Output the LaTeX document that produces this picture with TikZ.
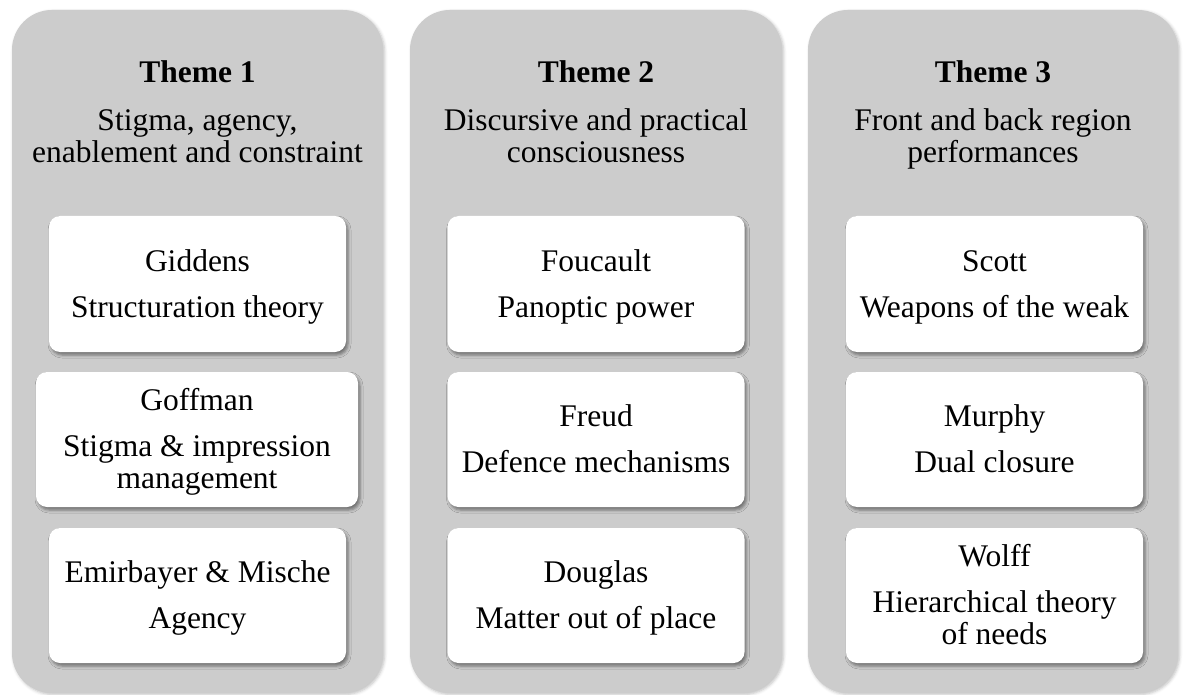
\documentclass[tikz,border=0pt]{standalone}
\usepackage{fontspec}
\setmainfont{Liberation Serif}
\usetikzlibrary{shadows.blur}
\definecolor{panelgray}{RGB}{204,204,204}
\newcommand\cardhi{\rule{0pt}{27pt}}
\newcommand\cardlo{\rule[-7pt]{0pt}{7pt}}
\begin{document}
\begin{tikzpicture}[x=1pt,y=-1pt,
  panel/.style={fill=panelgray, rounded corners=40pt, inner sep=0pt,
    blur shadow={shadow xshift=1.5pt, shadow yshift=-1.5pt, shadow blur radius=3pt, shadow opacity=25}},
  card/.style={fill=white, rounded corners=11pt, align=center, inner sep=0pt,
    font=\fontsize{31.5}{32}\selectfont,
    blur shadow={shadow xshift=2pt, shadow yshift=-3pt, shadow blur radius=3pt, shadow opacity=45}},
  header/.style={align=center, inner sep=0pt, font=\fontsize{31.5}{32}\selectfont, anchor=base}]
\useasboundingbox (0,0) rectangle (1183,695);

% panels
\node[panel, minimum width=371pt, minimum height=683pt] (p1) at (197.5,351.5) {};
\node[panel, minimum width=372pt, minimum height=683pt] (p2) at (596,351.5) {};
\node[panel, minimum width=370pt, minimum height=683pt] (p3) at (993,351.5) {};

% headers (base anchor = baseline of last line)
\node[header] (h1) at (197.5,162.5) {\textbf{Theme 1}\\[16pt]Stigma, agency,\\enablement and constraint};
\node[header] (h2) at (596,162.5) {\textbf{Theme 2}\\[16pt]Discursive and practical\\consciousness};
\node[header] (h3) at (993,162.5) {\textbf{Theme 3}\\[16pt]Front and back region\\performances};

% theme 1 cards
\node[card, minimum width=297pt, minimum height=136pt] (giddens) at (197.5,284) {\cardhi Giddens\\[14pt]Structuration theory\cardlo};
\node[card, minimum width=322pt, minimum height=135pt] (goffman) at (197,439.5) {\cardhi Goffman\\[14pt]Stigma \& impression\\management\cardlo};
\node[card, minimum width=297pt, minimum height=135pt] (emir) at (197.5,595.5) {\cardhi Emirbayer \& Mische\\[14pt]Agency\cardlo};

% theme 2 cards
\node[card, minimum width=297pt, minimum height=136pt] (foucault) at (596,284) {\cardhi Foucault\\[14pt]Panoptic power\cardlo};
\node[card, minimum width=297pt, minimum height=135pt] (freud) at (596,439.5) {\cardhi Freud\\[14pt]Defence mechanisms\cardlo};
\node[card, minimum width=297pt, minimum height=135pt] (douglas) at (596,595.5) {\cardhi Douglas\\[14pt]Matter out of place\cardlo};

% theme 3 cards
\node[card, minimum width=297pt, minimum height=136pt] (scott) at (994.5,284) {\cardhi Scott\\[14pt]Weapons of the weak\cardlo};
\node[card, minimum width=297pt, minimum height=135pt] (murphy) at (994.5,439.5) {\cardhi Murphy\\[14pt]Dual closure\cardlo};
\node[card, minimum width=297pt, minimum height=135pt] (wolff) at (994.5,595.5) {\cardhi Wolff\\[14pt]Hierarchical theory\\of needs\cardlo};
\end{tikzpicture}
\end{document}
